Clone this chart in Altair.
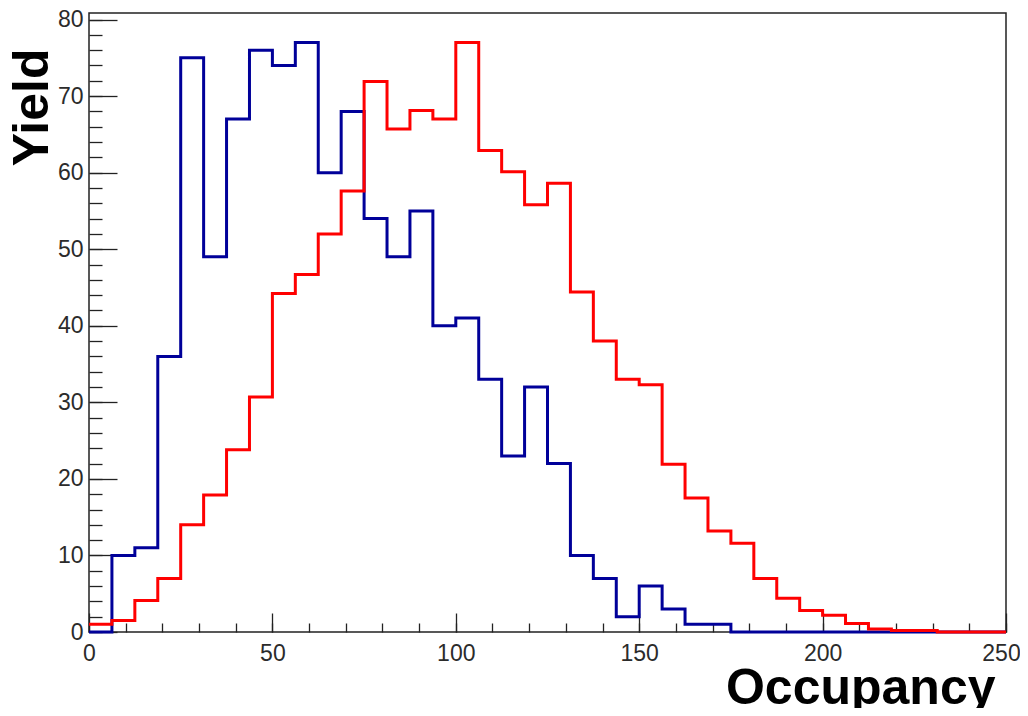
import altair as alt
import pandas as pd
import numpy as np

# ---- data (40 bins of width 6.25 over 0..250) ----
bin_width = 6.25
n_bins = 40
blue_counts = [0, 10, 11, 36, 75, 49, 67, 76, 74, 77,
               60, 68, 54, 49, 55, 40, 41, 33, 23, 32,
               22, 10, 7, 2, 6, 3, 1, 1, 0, 0,
               0, 0, 0, 0, 0, 0, 0, 0, 0, 0]
red_counts = [1.0, 1.5, 4.1, 7.0, 14.0, 17.9, 23.8, 30.7, 44.2, 46.7,
              52.0, 57.6, 71.9, 65.7, 68.1, 67.0, 77.0, 62.9, 60.1, 55.8,
              58.6, 44.4, 38.0, 33.0, 32.3, 21.9, 17.5, 13.2, 11.6, 7.0,
              4.4, 2.8, 2.2, 1.1, 0.4, 0.2, 0.2, 0.0, 0.0, 0.0]
x_major_ticks = [0, 50, 100, 150, 200, 250]
x_minor_ticks = list(range(0, 251, 10))
y_major_ticks = list(range(0, 81, 10))
y_minor_ticks = list(range(0, 81, 2))
x_domain = [0, 250]
y_domain = [0, 80.85]

edges = np.arange(n_bins + 1) * bin_width
blue_df = pd.DataFrame({"x": edges, "y": blue_counts + [blue_counts[-1]]})
red_df = pd.DataFrame({"x": edges, "y": red_counts + [red_counts[-1]]})

FONT = "Liberation Sans"
INK = "#222222"
LABEL = "#2b2b2b"

major_x = alt.Axis(
    orient="bottom", values=x_major_ticks, format="d",
    tickSize=19, offset=-19, tickColor=INK, tickWidth=1.3,
    domain=False, grid=False, labelOverlap=False, labelFlush=False,
    labelFont=FONT, labelFontSize=23, labelColor=LABEL, labelPadding=10,
    labelOffset={"condition": {"test": "datum.value == 250", "value": -5}, "value": 0},
    title="Occupancy", titleFont=FONT, titleFontSize=50, titleFontWeight="bold",
    titleColor="#000000", titleAlign="right", titleBaseline="alphabetic",
    titleX=906, titleY=90,
)
major_y = alt.Axis(
    orient="left", values=y_major_ticks, format="d",
    tickSize=28, offset=-28, tickColor=INK, tickWidth=1.3,
    domain=False, grid=False, labelOverlap=False, labelFlush=False,
    labelFont=FONT, labelFontSize=23, labelColor=LABEL, labelPadding=6,
    title="Yield", titleFont=FONT, titleFontSize=50, titleFontWeight="bold",
    titleColor="#000000", titleAngle=270, titleAlign="right",
    titleBaseline="alphabetic", titleX=-70, titleY=35,
)
minor_x = alt.Axis(
    orient="bottom", values=x_minor_ticks, tickSize=9, offset=-9,
    tickColor=INK, tickWidth=1.3, domain=False, grid=False, labels=False,
    title=None,
)
minor_y = alt.Axis(
    orient="left", values=y_minor_ticks, tickSize=13, offset=-13,
    tickColor=INK, tickWidth=1.3, domain=False, grid=False, labels=False,
    title=None,
)

xscale = alt.Scale(domain=x_domain, nice=False, zero=False)
yscale = alt.Scale(domain=y_domain, nice=False, zero=False)

blue = alt.Chart(blue_df).mark_line(
    interpolate="step-after", color="#000099", strokeWidth=3
).encode(
    x=alt.X("x:Q", scale=xscale, axis=major_x),
    y=alt.Y("y:Q", scale=yscale, axis=major_y),
)
red = alt.Chart(red_df).mark_line(
    interpolate="step-after", color="#ff0000", strokeWidth=3
).encode(
    x=alt.X("x:Q", scale=xscale, axis=minor_x),
    y=alt.Y("y:Q", scale=yscale, axis=minor_y),
)

chart = (
    alt.layer(blue, red)
    .resolve_axis(x="independent", y="independent")
    .properties(
        width=917, height=619,
        autosize=alt.AutoSizeParams(type="none"),
        padding={"left": 81, "top": 5, "right": 14, "bottom": 76},
        background="#ffffff",
    )
    .configure_view(stroke=INK, strokeWidth=1.5)
)

chart.save("out.html", embed_options={"renderer": "svg", "actions": False})
